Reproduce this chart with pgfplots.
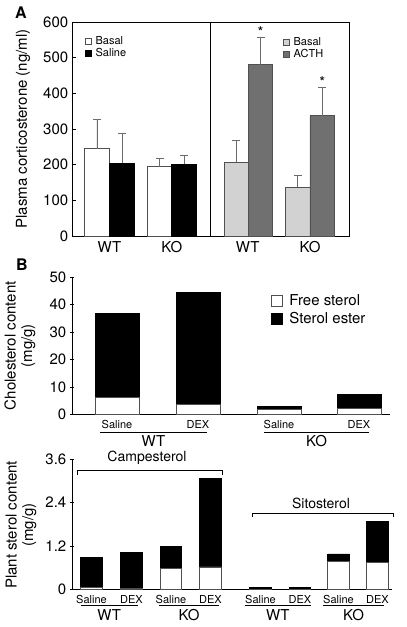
\documentclass[border=0pt]{standalone}
\usepackage{fontspec}
\setmainfont{TeX Gyre Heros}
\usepackage{pgfplots}
\pgfplotsset{compat=1.18}
\definecolor{lgray}{HTML}{D2D2D2}
\definecolor{dgray}{HTML}{707070}
\definecolor{edge}{HTML}{505050}
\definecolor{errc}{HTML}{6A6A6A}
\newcommand{\bigf}{\fontsize{15}{16.5}\selectfont}
\newcommand{\tickf}{\fontsize{15}{16.5}\selectfont}
\newcommand{\smlf}{\fontsize{11}{12}\selectfont}
\pgfplotsset{
  every axis/.append style={
    scale only axis, clip=false,
    font=\bigf,
    /pgf/number format/assume math mode=true,
    line width=0.8pt,
    major tick length=4pt,
    every tick/.style={black, line width=0.8pt},
    xtick style={draw=none},
    xticklabel style={font=\bigf},
    yticklabel style={font=\tickf},
  },
  myerr/.style={error bars/.cd, y dir=plus, y explicit,
    error bar style={errc, line width=0.8pt},
    error mark options={rotate=90, mark size=4pt, errc, line width=0.8pt}},
  sqleg/.style={legend image code/.code={\draw[##1, line width=0.6pt] (0pt,-3pt) rectangle (6pt,3pt);\path[draw=none,fill=none] (0pt,0pt) -- (8.5pt,0pt);}},
}
\begin{document}
\begin{tikzpicture}[x=1pt,y=1pt]
\useasboundingbox (0,0) rectangle (407,-627);

% ---------------- Panel A left ----------------
\begin{axis}[at={(72pt,-236pt)}, anchor=south west,
  width=138.3pt, height=214pt,
  xmin=0, xmax=138.3, ymin=0, ymax=600,
  ytick={0,100,...,600}, ytick pos=left,
  xtick={37.5,99.75}, xticklabels={WT,KO},
  xticklabel style={yshift=-2pt},
  sqleg,
  legend style={draw=none, fill=none, at={(rel axis cs:0.09,0.945)}, anchor=north west,
    font=\smlf, inner sep=0pt, row sep=-1.5pt},
  legend cell align=left]
\addplot[ybar, bar width=24.5, fill=white, draw=edge, myerr]
  coordinates {(25,245) +- (0,82) (87.5,194) +- (0,23)};
\addplot[ybar, bar width=24.5, fill=black, draw=black, myerr]
  coordinates {(50,204) +- (0,85) (112,201) +- (0,24)};
\legend{Basal,Saline}
\end{axis}

% ---------------- Panel A right ----------------
\begin{axis}[at={(210.3pt,-236pt)}, anchor=south west,
  width=138.7pt, height=214pt,
  xmin=0, xmax=138.7, ymin=0, ymax=600,
  ytick=\empty,
  xtick={37.5,99.75}, xticklabels={WT,KO},
  xticklabel style={yshift=-2pt},
  sqleg,
  legend style={draw=none, fill=none, at={(rel axis cs:0.52,0.94)}, anchor=north west,
    font=\smlf, inner sep=0pt, row sep=-1.5pt},
  legend cell align=left]
\addplot[ybar, bar width=24.5, fill=lgray, draw=edge, myerr]
  coordinates {(26,207) +- (0,61) (87.5,136) +- (0,34)};
\addplot[ybar, bar width=24.5, fill=dgray, draw=edge, myerr]
  coordinates {(50.2,480) +- (0,78) (111.9,337) +- (0,81)};
\node[font=\bigf] at (axis cs:50.2,572) {*};
\node[font=\bigf] at (axis cs:111.9,432) {*};
\legend{Basal,ACTH}
\end{axis}

% ---------------- Panel B top ----------------
\begin{axis}[at={(72pt,-414.3pt)}, anchor=south west,
  width=318pt, height=137pt,
  xmin=0, xmax=318, ymin=0, ymax=50,
  axis x line=bottom, axis y line=left, axis line style={-},
  ytick={0,10,...,50},
  xtick={45,126,207,287}, xticklabels={Saline,DEX,Saline,DEX},
  xticklabel style={font=\smlf},
  ybar stacked, bar width=44,
  legend image code/.code={\draw[#1, line width=0.6pt] (0pt,-5.5pt) rectangle (11pt,5.5pt);\path[draw=none,fill=none] (0pt,0pt) -- (16pt,0pt);},
  legend style={draw=none, fill=none, at={(rel axis cs:0.625,0.89)}, anchor=north west,
    font=\bigf, inner sep=0pt, row sep=1.5pt},
  legend cell align=left]
\addplot[fill=white, draw=edge] coordinates {(45,6.0) (126,3.6) (207,1.7) (287,2.3)};
\addplot[fill=black, draw=black] coordinates {(45,30.9) (126,41.0) (207,1.3) (287,5.1)};
\legend{Free sterol,Sterol ester}
\end{axis}

% ---------------- Panel B bottom ----------------
\begin{axis}[at={(72pt,-589.3pt)}, anchor=south west,
  width=320pt, height=130pt,
  xmin=0, xmax=320, ymin=0, ymax=3.6,
  axis x line=bottom, axis y line=left, axis line style={-},
  ytick={0,1.2,2.4,3.6},
  xtick={19.5,59.5,99,138.5,188.5,228,266.5,305.5},
  xticklabels={Saline,DEX,Saline,DEX,Saline,DEX,Saline,DEX},
  xticklabel style={font=\smlf},
  ybar stacked, bar width=21.5]
\addplot[fill=white, draw=edge] coordinates {(19.5,0.05) (59.5,0.03) (99,0.57) (138.5,0.62)
  (188.5,0.005) (228,0.005) (266.5,0.78) (305.5,0.74)};
\addplot[fill=black, draw=black] coordinates {(19.5,0.84) (59.5,1.00) (99,0.62) (138.5,2.45)
  (188.5,0.04) (228,0.04) (266.5,0.20) (305.5,1.15)};
\end{axis}

% ---------------- annotations ----------------
\node[font=\fontsize{16}{17}\selectfont\bfseries] at (21,-13) {A};
\node[font=\fontsize{16}{17}\selectfont\bfseries] at (22,-265) {B};

\node[font=\bigf, rotate=90] at (23,-129) {Plasma corticosterone (ng/ml)};
\node[font=\bigf, rotate=90, align=center, inner sep=0pt] at (20,-345.8)
  {Cholesterol content\\(mg/g)};
\node[font=\bigf, rotate=90, align=center, inner sep=0pt] at (21,-525)
  {Plant sterol content\\(mg/g)};

% group labels panel B top
\draw[line width=0.7pt] (100,-432.5) -- (207,-432.5);
\draw[line width=0.7pt] (264,-432.5) -- (369,-432.5);
\node[font=\bigf] at (153.5,-441) {WT};
\node[font=\bigf] at (316.5,-441) {KO};

% brackets
\draw[line width=0.7pt] (77,-475) -- (77,-470.7) -- (222,-470.7) -- (222,-475);
\node[font=\fontsize{14}{15}\selectfont] at (147,-458) {Campesterol};
\draw[line width=0.7pt] (252,-517) -- (252,-513) -- (393,-513) -- (393,-517);
\node[font=\fontsize{14}{15}\selectfont] at (321,-503) {Sitosterol};

% group labels panel B bottom
\foreach \a/\b/\t in {80.7/137.7/WT, 159/219.3/KO, 245/310.7/WT, 323.3/384/KO}{
  \draw[line width=0.7pt] (\a,-605.7) -- (\b,-605.7);
  \node[font=\bigf] at ({(\a+\b)/2},-615.5) {\t};
}
\end{tikzpicture}
\end{document}
